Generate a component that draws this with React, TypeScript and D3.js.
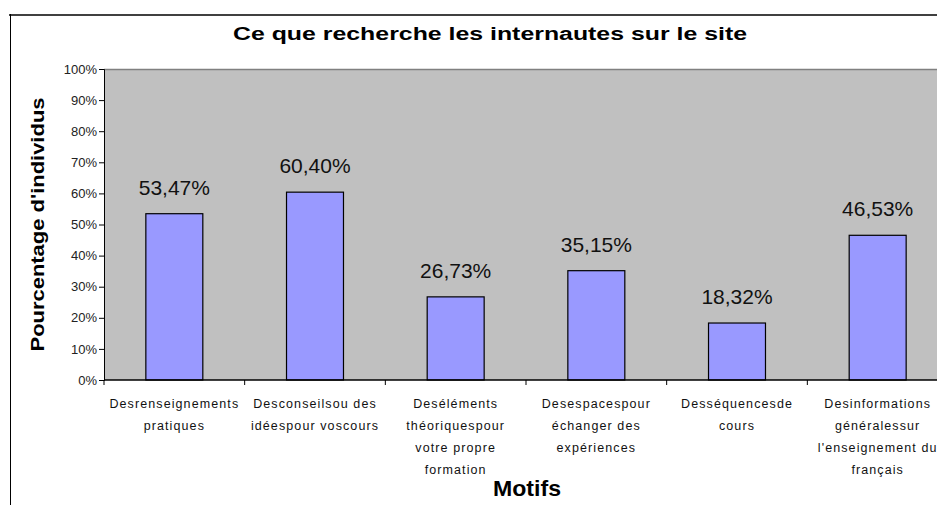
import React, { useEffect, useRef } from 'react';
import * as d3 from 'd3';

const categories: string[][] = [
  ['Desrenseignements', 'pratiques'],
  ['Desconseilsou des', 'idéespour voscours'],
  ['Deséléments', 'théoriquespour', 'votre propre', 'formation'],
  ['Desespacespour', 'échanger des', 'expériences'],
  ['Desséquencesde', 'cours'],
  ['Desinformations', 'généralessur', "l'enseignement du", 'français'],
];
const values = [53.47, 60.4, 26.73, 35.15, 18.32, 46.53];
const yTicks = [0, 10, 20, 30, 40, 50, 60, 70, 80, 90, 100];

const W = 937;
const H = 505;
const FONT = '"Liberation Sans", Arial, sans-serif';

function App() {
  const ref = useRef<SVGSVGElement>(null);

  useEffect(() => {
    const svg = d3.select(ref.current);
    svg.selectAll('*').remove();

    const left = 104, right = 948, top = 69, bottom = 380;
    const keys = categories.map((c, i) => String(i));

    const x = d3.scaleBand().domain(keys).range([left, right]).padding(0);
    const y = d3.scaleLinear().domain([0, 100]).range([bottom, top]);

    // outer frame (cut off on the right and bottom)
    svg.append('line').attr('x1', 9).attr('x2', W).attr('y1', 15).attr('y2', 15)
      .attr('stroke', '#404040').attr('stroke-width', 2);
    svg.append('line').attr('x1', 10.5).attr('x2', 10.5).attr('y1', 14).attr('y2', H)
      .attr('stroke', '#000').attr('stroke-width', 1);

    // title
    svg.append('text')
      .attr('x', 490).attr('y', 40)
      .attr('text-anchor', 'middle')
      .attr('textLength', 514).attr('lengthAdjust', 'spacingAndGlyphs')
      .style('font-family', FONT).style('font-weight', 'bold').style('font-size', '18px')
      .text('Ce que recherche les internautes sur le site');

    // plot background
    svg.append('rect')
      .attr('x', left).attr('y', top)
      .attr('width', right - left).attr('height', bottom - top)
      .attr('fill', '#c0c0c0');
    svg.append('line').attr('x1', left).attr('x2', right).attr('y1', top + 0.5).attr('y2', top + 0.5)
      .attr('stroke', '#808080').attr('stroke-width', 1.5);

    // bars
    const bw = x.bandwidth() * 0.405;
    svg.append('g').selectAll('rect')
      .data(values)
      .enter()
      .append('rect')
      .attr('x', (d, i) => x(String(i))! + (x.bandwidth() - bw) / 2)
      .attr('y', d => y(d))
      .attr('width', bw)
      .attr('height', d => bottom - y(d))
      .attr('fill', '#9999ff')
      .attr('stroke', '#000')
      .attr('stroke-width', 1.2);

    // value labels
    svg.append('g').selectAll('text')
      .data(values)
      .enter()
      .append('text')
      .attr('x', (d, i) => x(String(i))! + x.bandwidth() / 2)
      .attr('y', d => y(d) - 19)
      .attr('text-anchor', 'middle')
      .style('font-family', FONT).style('font-size', '21px').attr('fill', '#111')
      .text(d => d.toFixed(2).replace('.', ',') + '%');

    // y axis
    const yAxis = d3.axisLeft(y).tickValues(yTicks).tickSize(5).tickPadding(2)
      .tickFormat(d => d + '%');
    const gy = svg.append('g').attr('transform', `translate(${left},0)`).call(yAxis);
    gy.select('.domain').attr('stroke', '#000');
    gy.selectAll('.tick line').attr('stroke', '#000');
    gy.selectAll('.tick text').style('font-family', FONT).style('font-size', '13px').attr('fill', '#222');

    // x axis: ticks between categories
    svg.append('line').attr('x1', left).attr('x2', right).attr('y1', bottom).attr('y2', bottom)
      .attr('stroke', '#000').attr('stroke-width', 1.5);
    svg.append('g').selectAll('line')
      .data(keys)
      .enter()
      .append('line')
      .attr('x1', d => x(d)!).attr('x2', d => x(d)!)
      .attr('y1', bottom).attr('y2', bottom + 5)
      .attr('stroke', '#000');

    // category labels
    const cat = svg.append('g').selectAll('text')
      .data(categories)
      .enter()
      .append('text')
      .attr('text-anchor', 'middle')
      .style('font-family', FONT).style('font-size', '12.5px')
      .style('letter-spacing', '1.1px').attr('fill', '#111');
    cat.each(function (lines, i) {
      const t = d3.select(this);
      lines.forEach((ln, j) => {
        t.append('tspan')
          .attr('x', x(String(i))! + x.bandwidth() / 2)
          .attr('y', 408 + j * 22)
          .text(ln);
      });
    });

    // axis titles
    svg.append('text')
      .attr('transform', `translate(44,${(top + bottom) / 2}) rotate(-90)`)
      .attr('text-anchor', 'middle')
      .attr('textLength', 254).attr('lengthAdjust', 'spacingAndGlyphs')
      .style('font-family', FONT).style('font-weight', 'bold').style('font-size', '19px')
      .text("Pourcentage d'individus");
    svg.append('text')
      .attr('x', 527).attr('y', 496)
      .attr('text-anchor', 'middle')
      .attr('textLength', 68).attr('lengthAdjust', 'spacingAndGlyphs')
      .style('font-family', FONT).style('font-weight', 'bold').style('font-size', '22px')
      .text('Motifs');
  });

  return (
    <svg ref={ref} width={W} height={H}
      style={{ position: 'absolute', left: 0, top: 0, display: 'block', background: '#fff' }} />
  );
}

export default App;
